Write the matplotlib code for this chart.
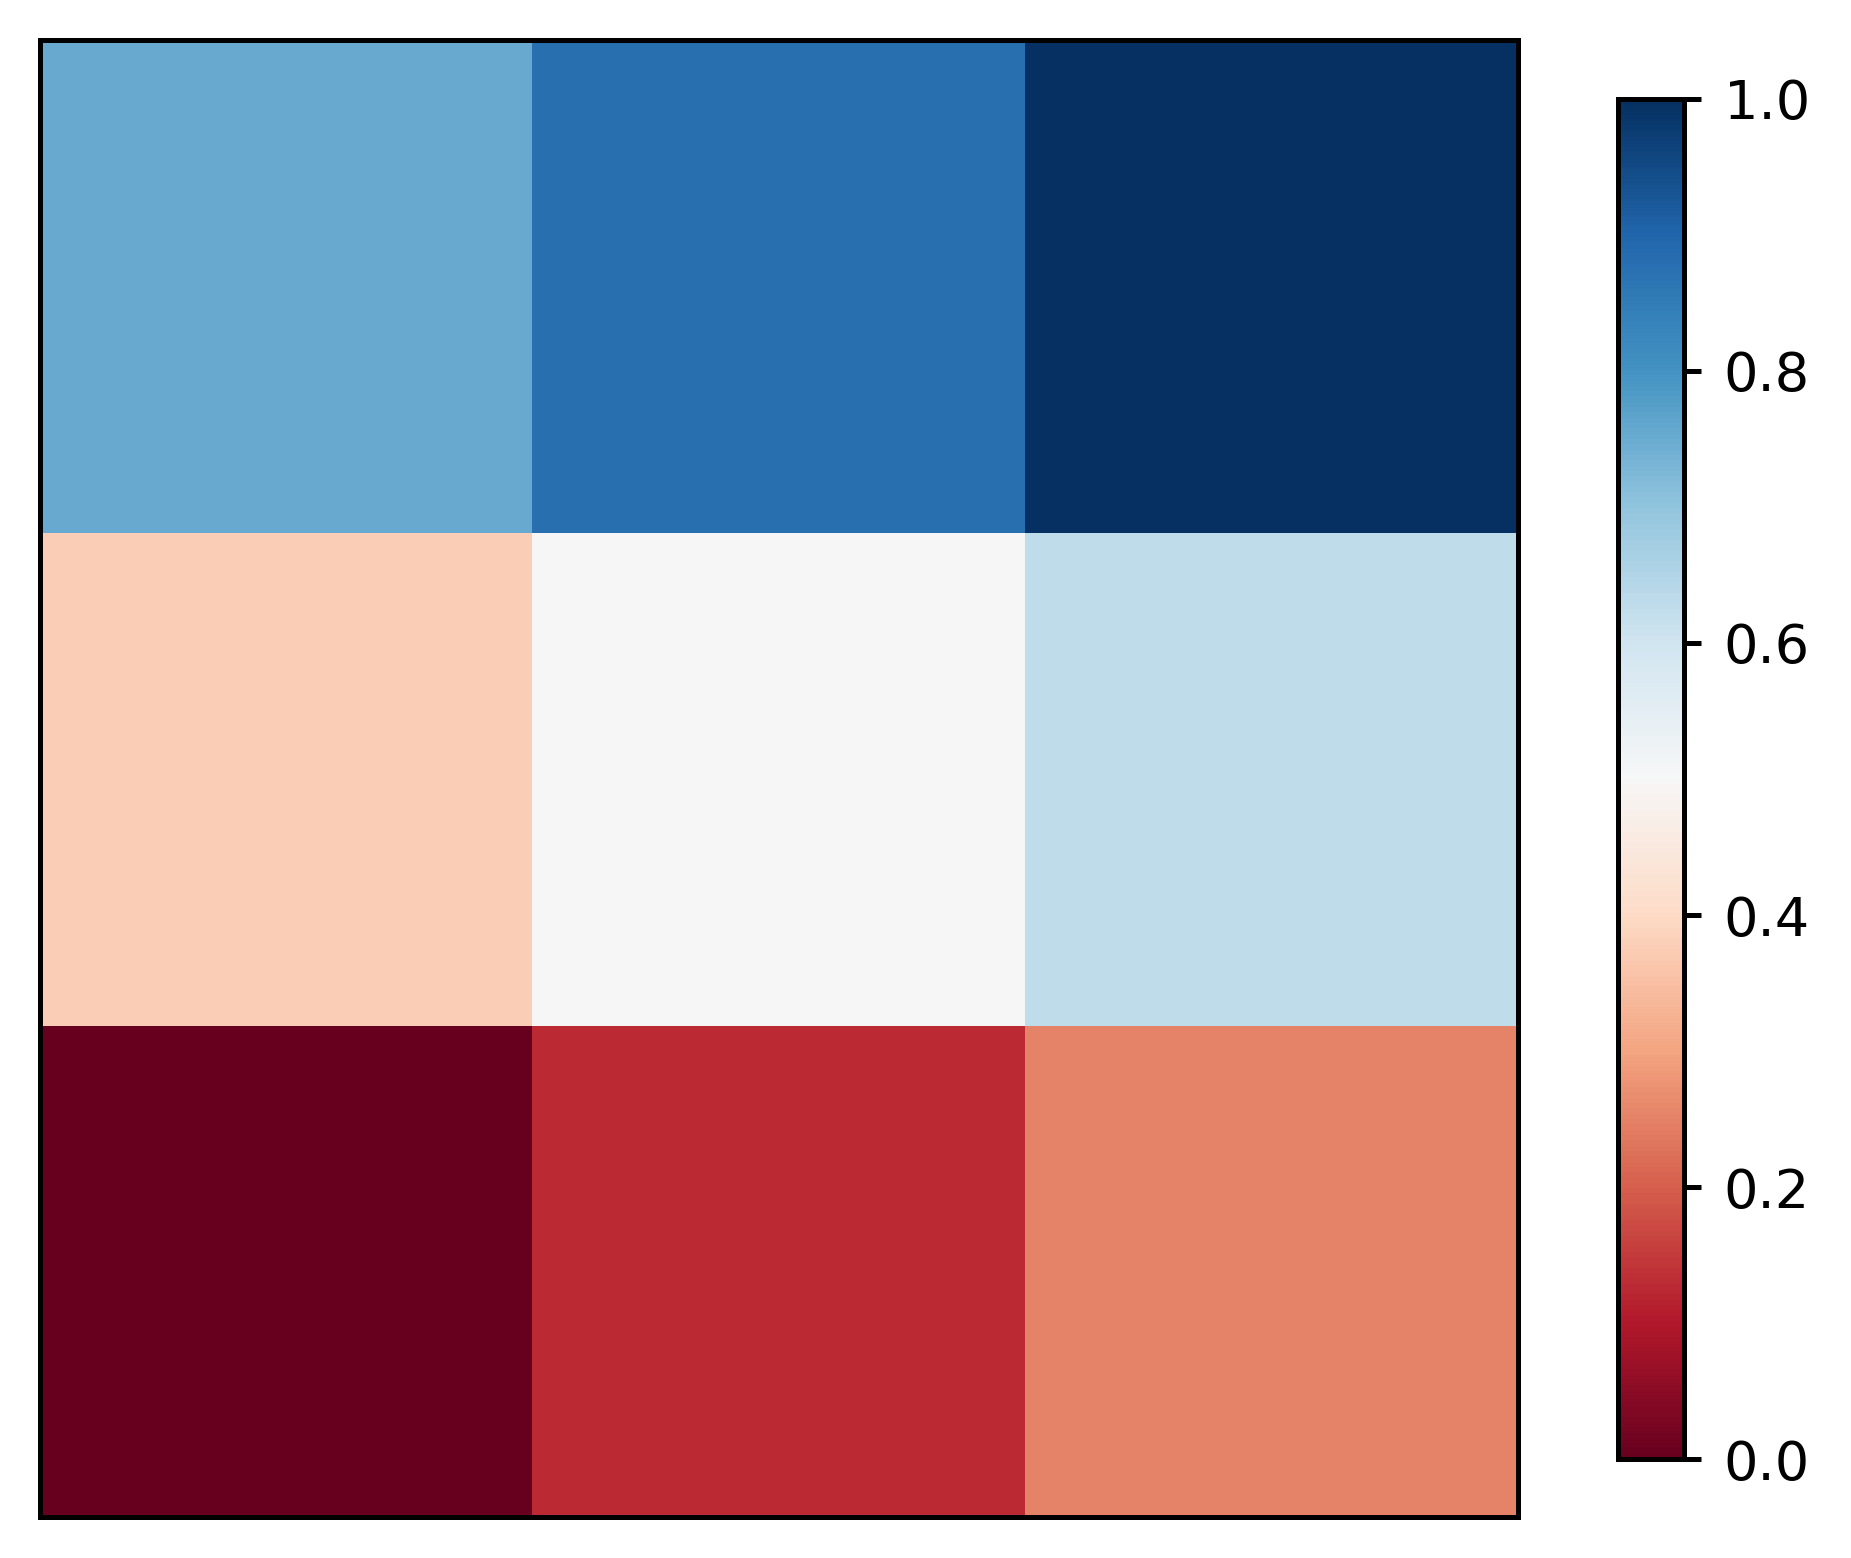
import numpy as np
import matplotlib
matplotlib.use("Agg")
import matplotlib.pyplot as plt

# grid values, bottom row first (image drawn with origin='lower')
row_bottom = [0.0, 0.125, 0.25]
row_middle = [0.375, 0.5, 0.625]
row_top = [0.75, 0.875, 1.0]
cbar_ticks = [0.0, 0.2, 0.4, 0.6, 0.8, 1.0]

grid = np.array([row_bottom, row_middle, row_top])

fig = plt.figure(figsize=(1852 / 300, 1558 / 300), dpi=300)
ax = fig.add_axes([0.0216, 0.0263, 0.798, 0.948])
cax = fig.add_axes([0.8737, 0.0635, 0.0356, 0.873])

im = ax.imshow(grid, cmap="RdBu", origin="lower", vmin=0, vmax=1, aspect="auto")
ax.set_xticks([])
ax.set_yticks([])
for s in ax.spines.values():
    s.set_linewidth(1.2)

cb = fig.colorbar(im, cax=cax, ticks=cbar_ticks)
cb.outline.set_linewidth(1.2)
cb.ax.tick_params(labelsize=13, length=4, width=1.2, pad=5.5)

fig.savefig("out.png", dpi=300)
